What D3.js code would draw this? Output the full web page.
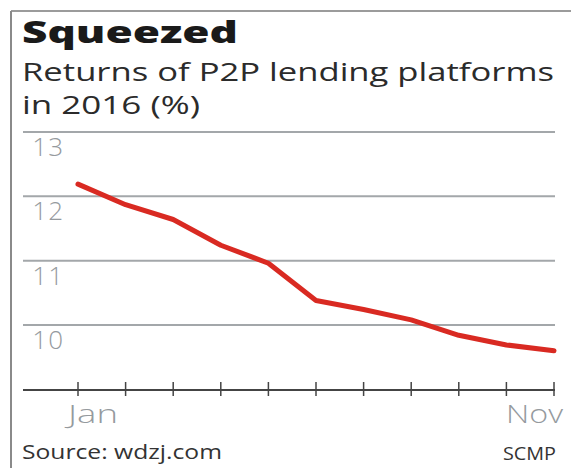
<!DOCTYPE html>
<html>
<head>
<meta charset="utf-8">
<script src="https://cdn.jsdelivr.net/npm/d3@7"></script>
<style>
  body { margin: 0; background: #fff; }
  svg { display: block; font-family: "Open Sans", "DejaVu Sans", sans-serif; }
</style>
</head>
<body>
<div id="chart"></div>
<script>
// Data
const months = ["Jan", "Feb", "Mar", "Apr", "May", "Jun", "Jul", "Aug", "Sep", "Oct", "Nov"];
const returns = [12.19, 11.87, 11.64, 11.24, 10.96, 10.38, 10.24, 10.08, 9.84, 9.69, 9.60];
const yTicks = [10, 11, 12, 13];
const shownMonths = ["Jan", "Nov"];

const width = 571, height = 468;

const svg = d3.select("#chart")
  .append("svg")
    .attr("width", width)
    .attr("height", height);

// Frame lines (top and left)
svg.append("line")
    .attr("x1", 11).attr("x2", width)
    .attr("y1", 11).attr("y2", 11)
    .attr("stroke", "#7a7a7a").attr("stroke-width", 1.5);
svg.append("line")
    .attr("x1", 11).attr("x2", 11)
    .attr("y1", 11).attr("y2", height)
    .attr("stroke", "#8a8a8a").attr("stroke-width", 2);

// Title and subtitle
svg.append("text")
    .attr("x", 22).attr("y", 43)
    .attr("textLength", 216)
    .attr("lengthAdjust", "spacingAndGlyphs")
    .style("font-size", "30px")
    .style("font-weight", "800")
    .style("fill", "#1a1a1a")
    .text("Squeezed");

svg.append("text")
    .attr("x", 22).attr("y", 81)
    .attr("textLength", 532)
    .attr("lengthAdjust", "spacingAndGlyphs")
    .style("font-size", "25px")
    .style("fill", "#2b2b2b")
    .text("Returns of P2P lending platforms");

svg.append("text")
    .attr("x", 22).attr("y", 114)
    .attr("textLength", 178)
    .attr("lengthAdjust", "spacingAndGlyphs")
    .style("font-size", "25px")
    .style("fill", "#2b2b2b")
    .text("in 2016 (%)");

// Scales
const x = d3.scalePoint()
  .domain(months)
  .range([78, 554]);

const y = d3.scaleLinear()
  .domain([10, 13])
  .range([325, 132]);

// Gridlines
svg.append("g")
  .selectAll("line")
  .data(yTicks)
  .join("line")
    .attr("x1", 23).attr("x2", 555)
    .attr("y1", d => y(d)).attr("y2", d => y(d))
    .attr("stroke", "#a3a7aa")
    .attr("stroke-width", 2);

// Y labels, sitting under each gridline
svg.append("g")
  .selectAll("text")
  .data(yTicks)
  .join("text")
    .attr("x", 64)
    .attr("y", d => y(d) + 24)
    .attr("text-anchor", "end")
    .style("font-size", "26px")
    .style("font-weight", "300")
    .style("letter-spacing", "1px")
    .style("fill", "#959a9e")
    .text(d => d);

// X axis baseline and ticks
const axisY = 390;
svg.append("line")
    .attr("x1", 23).attr("x2", 555)
    .attr("y1", axisY).attr("y2", axisY)
    .attr("stroke", "#444")
    .attr("stroke-width", 2);

svg.append("g")
  .selectAll("line")
  .data(months)
  .join("line")
    .attr("x1", d => x(d)).attr("x2", d => x(d))
    .attr("y1", axisY - 8).attr("y2", axisY + 6)
    .attr("stroke", "#444")
    .attr("stroke-width", 1.5);

svg.append("g")
  .selectAll("text")
  .data(shownMonths)
  .join("text")
    .attr("x", (d, i) => i === 0 ? x(d) - 10 : x(d) + 9)
    .attr("y", 423)
    .attr("text-anchor", (d, i) => i === 0 ? "start" : "end")
    .attr("textLength", (d, i) => i === 0 ? 50 : 57)
    .attr("lengthAdjust", "spacingAndGlyphs")
    .style("font-size", "26px")
    .style("font-weight", "300")
    .style("fill", "#959a9e")
    .text(d => d);

// The line
const line = d3.line()
  .x((d, i) => x(months[i]))
  .y(d => y(d));

svg.append("path")
    .datum(returns)
    .attr("d", line)
    .attr("fill", "none")
    .attr("stroke", "#d92a22")
    .attr("stroke-width", 5)
    .attr("stroke-linecap", "round")
    .attr("stroke-linejoin", "round");

// Footer
svg.append("text")
    .attr("x", 22).attr("y", 459)
    .attr("textLength", 200)
    .attr("lengthAdjust", "spacingAndGlyphs")
    .style("font-size", "20px")
    .style("fill", "#333")
    .text("Source: wdzj.com");

svg.append("text")
    .attr("x", 556).attr("y", 460)
    .attr("text-anchor", "end")
    .attr("textLength", 53)
    .attr("lengthAdjust", "spacingAndGlyphs")
    .style("font-size", "18px")
    .style("fill", "#333")
    .text("SCMP");
</script>
</body>
</html>
